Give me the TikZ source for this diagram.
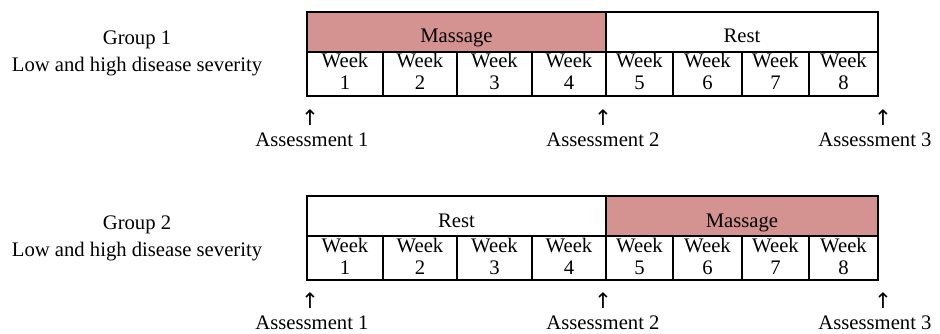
\documentclass[tikz,border=0pt]{standalone}
\usepackage{fontspec}
\setmainfont{Liberation Serif}
\newfontfamily\arrowfont{DejaVu Sans}
\definecolor{massage}{RGB}{212,146,144}
\begin{document}
\begin{tikzpicture}[x=0.75pt,y=-0.75pt,
  every node/.style={font=\fontsize{15.5}{16.5}\selectfont, inner sep=0pt},
  box/.style={draw=black, line width=0.8pt},
  lbl/.style={anchor=base},
  up/.style={font=\arrowfont\fontsize{16}{16}\selectfont}]
\useasboundingbox (0,0) rectangle (940,334);
% ---------- Group 1 ----------
\node[lbl] (g1a) at (137,45) {Group 1};
\node[lbl] (g1b) at (137,72) {Low and high disease severity};
\path[box, fill=massage] (307,12) rectangle (606,52);
\path[box, fill=white] (606,12) rectangle (878,52);
\node[lbl] (g1m) at (456.5,43) {Massage};
\node[lbl] (g1r) at (742,43) {Rest};
\foreach \a/\b/\w in {307/383/1,383/457/2,457/532/3,532/606/4,606/673/5,673/742/6,742/809/7,809/878/8}{
  \path[box] (\a,52) rectangle (\b,96);
  \node[lbl] (g1w\w) at ({(\a+\b)/2},68) {Week};
  \node[lbl] (g1n\w) at ({(\a+\b)/2},90) {\w};
}
\node[up] (g1u1) at (310,118) {↑};
\node[up] (g1u2) at (603,118) {↑};
\node[up] (g1u3) at (883,118) {↑};
\node[lbl] (g1t1) at (312,147) {Assessment 1};
\node[lbl] (g1t2) at (603,147) {Assessment 2};
\node[lbl] (g1t3) at (875,147) {Assessment 3};
% ---------- Group 2 ----------
\node[lbl] (g2a) at (137,230) {Group 2};
\node[lbl] (g2b) at (137,257) {Low and high disease severity};
\path[box, fill=white] (307,196) rectangle (606,236);
\path[box, fill=massage] (606,196) rectangle (878,236);
\node[lbl] (g2r) at (456.5,228) {Rest};
\node[lbl] (g2m) at (742,228) {Massage};
\foreach \a/\b/\w in {307/383/1,383/457/2,457/532/3,532/606/4,606/673/5,673/742/6,742/809/7,809/878/8}{
  \path[box] (\a,236) rectangle (\b,280);
  \node[lbl] (g2w\w) at ({(\a+\b)/2},253) {Week};
  \node[lbl] (g2n\w) at ({(\a+\b)/2},275) {\w};
}
\node[up] (g2u1) at (310,301) {↑};
\node[up] (g2u2) at (603,301) {↑};
\node[up] (g2u3) at (883,301) {↑};
\node[lbl] (g2t1) at (312,330) {Assessment 1};
\node[lbl] (g2t2) at (603,330) {Assessment 2};
\node[lbl] (g2t3) at (875,330) {Assessment 3};
\end{tikzpicture}
\end{document}
